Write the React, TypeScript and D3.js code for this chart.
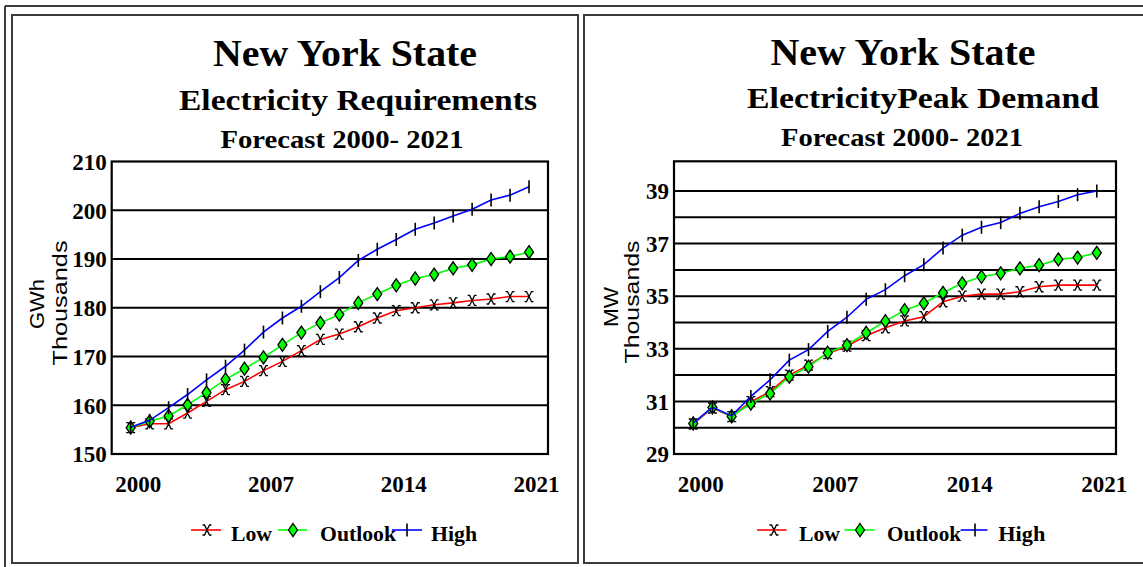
import * as d3 from 'd3';

const years = [2000, 2001, 2002, 2003, 2004, 2005, 2006, 2007, 2008, 2009, 2010, 2011, 2012, 2013, 2014, 2015, 2016, 2017, 2018, 2019, 2020, 2021];
const xTickYears = [2000, 2007, 2014, 2021];

// electricity requirements, GWh thousands
const gwhLow = [155.4, 156.2, 156.2, 158.4, 160.8, 163.2, 164.9, 167.1, 169.0, 171.2, 173.5, 174.6, 176.1, 177.9, 179.4, 180.0, 180.6, 181.0, 181.5, 181.8, 182.3, 182.3];
const gwhOutlook = [155.4, 156.7, 157.8, 160.1, 162.6, 165.3, 167.5, 169.8, 172.4, 174.9, 176.9, 178.6, 181.0, 182.8, 184.6, 186.0, 186.8, 188.1, 188.8, 190.0, 190.5, 191.4];
const gwhHigh = [155.5, 156.9, 159.5, 162.2, 165.2, 168.0, 171.3, 175.0, 177.9, 180.3, 183.3, 186.2, 189.7, 192.0, 194.0, 196.1, 197.4, 198.8, 200.2, 202.1, 203.1, 204.8];
const gwhTicks = [150, 160, 170, 180, 190, 200, 210];
const gwhGrid = [160, 170, 180, 190, 200];

// peak demand, MW thousands
const mwLow = [30.14, 30.75, 30.42, 30.99, 31.37, 32.0, 32.38, 32.82, 33.1, 33.5, 33.8, 34.06, 34.22, 34.79, 35.0, 35.08, 35.08, 35.17, 35.36, 35.42, 35.42, 35.42];
const mwOutlook = [30.16, 30.77, 30.43, 30.92, 31.3, 31.94, 32.32, 32.85, 33.14, 33.61, 34.05, 34.47, 34.73, 35.13, 35.49, 35.74, 35.87, 36.06, 36.18, 36.4, 36.47, 36.65];
const mwHigh = [30.17, 30.78, 30.45, 31.19, 31.82, 32.57, 32.97, 33.66, 34.2, 34.88, 35.25, 35.78, 36.2, 36.83, 37.32, 37.62, 37.8, 38.15, 38.4, 38.6, 38.86, 39.0];
const mwTicks = [29, 31, 33, 35, 37, 39];
const mwGrid = [30, 31, 32, 33, 34, 35, 36, 37, 38, 39];

const serif = '"Liberation Serif", "Times New Roman", serif';
const sans = '"Liberation Sans", Arial, sans-serif';

type Layout = {
  plot: { x0: number; x1: number; y0: number; y1: number };
  title: [number, number, number];
  sub: [number, number, number];
  fc: [number, number, number];
  unitT: [number, number, number];
  thouT: [number, number, number];
  legend: { red: [number, number, number]; low: [number, number]; green: [number, number, number]; outlook: [number, number]; blue: [number, number, number]; high: [number, number] };
};

type PanelProps = {
  subtitle: string;
  subLen: number;
  unit: string;
  low: number[];
  outlook: number[];
  high: number[];
  yDomain: [number, number];
  yTicks: number[];
  yGrid: number[];
  lay: Layout;
};

const Cross = ({ x, y }: { x: number; y: number }) => (
  <path d={`M${x - 4.5},${y - 5}h2l5,10h2M${x + 4.5},${y - 5}h-2l-5,10h-2`} stroke="#000" strokeWidth={1.3} fill="none" />
);
const Diamond = ({ x, y }: { x: number; y: number }) => (
  <path d={`M${x},${y - 6.5}L${x + 4.5},${y}L${x},${y + 6.5}L${x - 4.5},${y}Z`} fill="#00ff00" stroke="#000" strokeWidth={1.3} />
);
const Plus = ({ x, y }: { x: number; y: number }) => (
  <line x1={x} x2={x} y1={y - 6.5} y2={y + 6.5} stroke="#000" strokeWidth={1.6} />
);

const Panel = ({ subtitle, subLen, unit, low, outlook, high, yDomain, yTicks, yGrid, lay }: PanelProps) => {
  const { plot } = lay;
  const x = d3.scaleLinear().domain([1999, 2022]).range([plot.x0, plot.x1]);
  const y = d3.scaleLinear().domain(yDomain).range([plot.y1, plot.y0]);
  const line = d3.line<number>().x((_, i) => x(years[i])).y(d => y(d));
  const lg = lay.legend;

  return (
    <g>
      <text x={lay.title[0]} y={lay.title[1]} textAnchor="middle" fontFamily={serif} fontWeight="bold" fontSize={37} textLength={lay.title[2]} lengthAdjust="spacingAndGlyphs">New York State</text>
      <text x={lay.sub[0]} y={lay.sub[1]} textAnchor="middle" fontFamily={serif} fontWeight="bold" fontSize={30} textLength={subLen} lengthAdjust="spacingAndGlyphs">{subtitle}</text>
      <text x={lay.fc[0]} y={lay.fc[1]} textAnchor="middle" fontFamily={serif} fontWeight="bold" fontSize={26} textLength={lay.fc[2]} lengthAdjust="spacingAndGlyphs">Forecast 2000- 2021</text>

      <text transform={`translate(${lay.unitT[0]},${lay.unitT[1]}) rotate(-90)`} textAnchor="middle" fontFamily={sans} fontSize={21} textLength={lay.unitT[2]} lengthAdjust="spacingAndGlyphs">{unit}</text>
      <text transform={`translate(${lay.thouT[0]},${lay.thouT[1]}) rotate(-90)`} textAnchor="middle" fontFamily={sans} fontSize={21} textLength={lay.thouT[2]} lengthAdjust="spacingAndGlyphs">Thousands</text>

      <rect x={plot.x0} y={plot.y0} width={plot.x1 - plot.x0} height={plot.y1 - plot.y0} fill="#fff" stroke="#000" strokeWidth={2.2} />
      {yGrid.map(t => (
        <line key={t} x1={plot.x0} x2={plot.x1} y1={y(t)} y2={y(t)} stroke="#000" strokeWidth={2} />
      ))}
      {yTicks.map(t => (
        <text key={t} x={plot.x0 - 5} y={y(t)} dy="0.36em" textAnchor="end" fontFamily={serif} fontWeight="bold" fontSize={23}>{t}</text>
      ))}
      {xTickYears.map(t => (
        <text key={t} x={x(t) + 7.5} y={492} textAnchor="middle" fontFamily={serif} fontWeight="bold" fontSize={23}>{t}</text>
      ))}

      <path d={line(low) || ''} fill="none" stroke="#ff0000" strokeWidth={1.6} />
      {low.map((v, i) => <Cross key={i} x={x(years[i])} y={y(v)} />)}
      <path d={line(outlook) || ''} fill="none" stroke="#00ff00" strokeWidth={1.6} />
      {outlook.map((v, i) => <Diamond key={i} x={x(years[i])} y={y(v)} />)}
      <path d={line(high) || ''} fill="none" stroke="#0000ff" strokeWidth={1.6} />
      {high.map((v, i) => <Plus key={i} x={x(years[i])} y={y(v)} />)}

      <line x1={lg.red[0]} x2={lg.red[1]} y1={530} y2={530} stroke="#ff0000" strokeWidth={1.6} />
      <Cross x={lg.red[2]} y={530} />
      <text x={lg.low[0]} y={541} fontFamily={serif} fontWeight="bold" fontSize={22} textLength={lg.low[1]} lengthAdjust="spacingAndGlyphs">Low</text>
      <line x1={lg.green[0]} x2={lg.green[1]} y1={530} y2={530} stroke="#00ff00" strokeWidth={1.6} />
      <Diamond x={lg.green[2]} y={530} />
      <text x={lg.outlook[0]} y={541} fontFamily={serif} fontWeight="bold" fontSize={22} textLength={lg.outlook[1]} lengthAdjust="spacingAndGlyphs">Outlook</text>
      <line x1={lg.blue[0]} x2={lg.blue[1]} y1={530} y2={530} stroke="#0000ff" strokeWidth={1.6} />
      <Plus x={lg.blue[2]} y={530} />
      <text x={lg.high[0]} y={541} fontFamily={serif} fontWeight="bold" fontSize={22} textLength={lg.high[1]} lengthAdjust="spacingAndGlyphs">High</text>
    </g>
  );
};

const leftLayout: Layout = {
  plot: { x0: 111.7, x1: 548, y0: 161.5, y1: 454 },
  title: [345, 66, 264],
  sub: [358, 110, 358],
  fc: [342, 147.5, 243],
  unitT: [44, 304, 50],
  thouT: [66.5, 303, 125],
  legend: { red: [191, 221, 207], low: [231, 41], green: [278, 307, 293], outlook: [320, 76], blue: [392, 422, 407], high: [431, 46] },
};

const rightLayout: Layout = {
  plot: { x0: 674, x1: 1116, y0: 161.3, y1: 454 },
  title: [903, 64.5, 265],
  sub: [923, 108, 352],
  fc: [902, 145.7, 242],
  unitT: [617.5, 307, 40],
  thouT: [639, 302, 123],
  legend: { red: [757, 786.5, 774], low: [799, 41], green: [844.6, 874.4, 860], outlook: [887, 74], blue: [960.6, 987.5, 975], high: [998.3, 47] },
};

export default function App() {
  const frame = '#3c3c3c';
  return (
    <svg width={1143} height={567} style={{ position: 'absolute', left: 0, top: 0, background: '#fff' }}>
      <rect width={1143} height={567} fill="#fff" />
      {/* outer double frame */}
      <line x1={5} x2={1143} y1={6} y2={6} stroke={frame} strokeWidth={2} />
      <line x1={5} x2={5} y1={6} y2={567} stroke={frame} strokeWidth={2} />
      <rect x={12} y={15} width={566} height={548} fill="none" stroke={frame} strokeWidth={2} />
      <rect x={584} y={15} width={570} height={548} fill="none" stroke={frame} strokeWidth={2} />

      <Panel subtitle="Electricity Requirements" subLen={358} unit="GWh" low={gwhLow} outlook={gwhOutlook} high={gwhHigh}
        yDomain={[150, 210]} yTicks={gwhTicks} yGrid={gwhGrid} lay={leftLayout} />
      <Panel subtitle="ElectricityPeak Demand" subLen={352} unit="MW" low={mwLow} outlook={mwOutlook} high={mwHigh}
        yDomain={[29, 40.13]} yTicks={mwTicks} yGrid={mwGrid} lay={rightLayout} />
    </svg>
  );
}
